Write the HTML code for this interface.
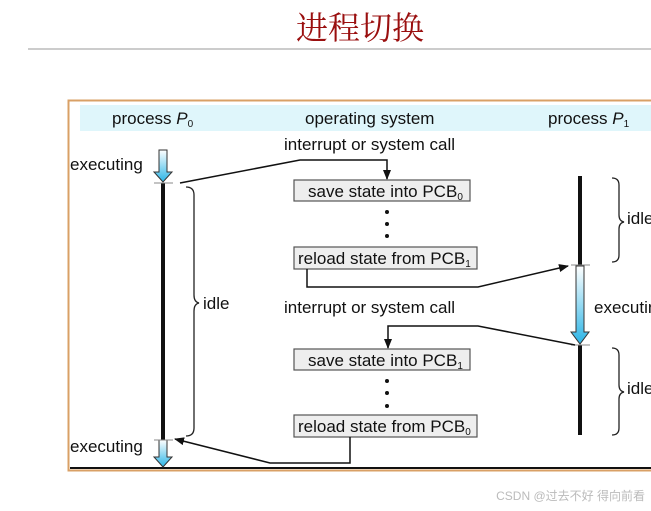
<!DOCTYPE html>
<html><head><meta charset="utf-8"><style>
html,body{margin:0;padding:0;background:#fff;width:651px;height:511px;overflow:hidden}
svg text{font-family:"Liberation Sans",Arial,sans-serif;font-size:17px;fill:#111}
</style></head><body>
<svg width="651" height="511" xmlns="http://www.w3.org/2000/svg">
<defs>
<marker id="a" markerWidth="10" markerHeight="8" refX="9" refY="4" orient="auto" markerUnits="userSpaceOnUse"><path d="M0,0 L10,4 L0,8 Z" fill="#111"/></marker>
<linearGradient id="g" x1="0" y1="0" x2="0" y2="1"><stop offset="0" stop-color="#fff"/><stop offset="1" stop-color="#2ab4e6"/></linearGradient>
</defs>
<text x="360" y="39" text-anchor="middle" style="font-family:'Noto Serif CJK SC',serif;font-size:32px;fill:#9a0f0f">进程切换</text>
<line x1="28" y1="49" x2="651" y2="49" stroke="#999" stroke-width="1"/>
<rect x="68.5" y="100.5" width="590" height="370" fill="#fff" stroke="#d9a066" stroke-width="2"/>
<rect x="80" y="105" width="571" height="26" fill="#dff6fb"/>
<line x1="70" y1="468" x2="651" y2="468" stroke="#111" stroke-width="2"/>
<text x="112" y="124">process <tspan font-style="italic">P</tspan><tspan font-size="10" dy="3">0</tspan></text>
<text x="305" y="124">operating system</text>
<text x="548" y="124">process <tspan font-style="italic">P</tspan><tspan font-size="10" dy="3">1</tspan></text>
<text x="284" y="150">interrupt or system call</text>
<text x="284" y="313">interrupt or system call</text>
<text x="70" y="170">executing</text>
<text x="70" y="452">executing</text>
<text x="203" y="309">idle</text>
<text x="627" y="224">idle</text>
<text x="627" y="394">idle</text>
<text x="594" y="313">executing</text>
<!-- P0 -->
<line x1="163" y1="183" x2="163" y2="440" stroke="#111" stroke-width="4"/>
<path d="M159,150 h8 v22 h5 l-9,10 l-9,-10 h5 Z" fill="url(#g)" stroke="#333"/>
<path d="M159,440 h8 v17 h5 l-9,10 l-9,-10 h5 Z" fill="url(#g)" stroke="#333"/>
<line x1="154" y1="183" x2="173" y2="183" stroke="#888"/>
<line x1="154" y1="440" x2="173" y2="440" stroke="#888"/>
<!-- P1 -->
<line x1="580" y1="176" x2="580" y2="265" stroke="#111" stroke-width="4"/>
<line x1="580" y1="345" x2="580" y2="435" stroke="#111" stroke-width="4"/>
<path d="M576,266 h8 v66 h5 l-9,12 l-9,-12 h5 Z" fill="url(#g)" stroke="#333"/>
<line x1="571" y1="265" x2="590" y2="265" stroke="#888"/>
<line x1="571" y1="345" x2="590" y2="345" stroke="#888"/>
<!-- braces -->
<path d="M186,187 q8,0 8,8 v100 q0,7 5,8 q-5,1 -5,8 v117 q0,8 -8,8" fill="none" stroke="#222" stroke-width="1.3"/>
<path d="M612,178 q7,0 7,7 v30 q0,6 5,7 q-5,1 -5,7 v26 q0,7 -7,7" fill="none" stroke="#222" stroke-width="1.3"/>
<path d="M612,348 q7,0 7,7 v30 q0,6 5,7 q-5,1 -5,7 v29 q0,7 -7,7" fill="none" stroke="#222" stroke-width="1.3"/>
<!-- boxes -->
<g fill="#eee" stroke="#555" stroke-width="1.2">
<rect x="294" y="180" width="176" height="21"/>
<rect x="294" y="247" width="183" height="22"/>
<rect x="294" y="349" width="176" height="21"/>
<rect x="294" y="415" width="183" height="22"/>
</g>
<text x="308" y="197">save state into PCB<tspan font-size="10" dy="3">0</tspan></text>
<text x="298" y="264">reload state from PCB<tspan font-size="10" dy="3">1</tspan></text>
<text x="308" y="366">save state into PCB<tspan font-size="10" dy="3">1</tspan></text>
<text x="298" y="432">reload state from PCB<tspan font-size="10" dy="3">0</tspan></text>
<g fill="#111">
<circle cx="387" cy="212" r="2"/><circle cx="387" cy="224" r="2"/><circle cx="387" cy="236" r="2"/>
<circle cx="387" cy="381" r="2"/><circle cx="387" cy="393" r="2"/><circle cx="387" cy="406" r="2"/>
</g>
<!-- connectors -->
<g fill="none" stroke="#111" stroke-width="1.5">
<polyline points="180,183 300,160 387,160 387,179" marker-end="url(#a)"/>
<polyline points="307,269 307,287 478,287 568,266" marker-end="url(#a)"/>
<polyline points="575,345 478,326 388,326 388,348" marker-end="url(#a)"/>
<polyline points="350,437 350,463 270,463 175,439" marker-end="url(#a)"/>
</g>
<text x="645" y="500" text-anchor="end" style="font-family:'Liberation Sans','Noto Sans CJK SC',sans-serif;font-size:12px;fill:#bbb">CSDN @过去不好 得向前看</text>
</svg>
</body></html>
